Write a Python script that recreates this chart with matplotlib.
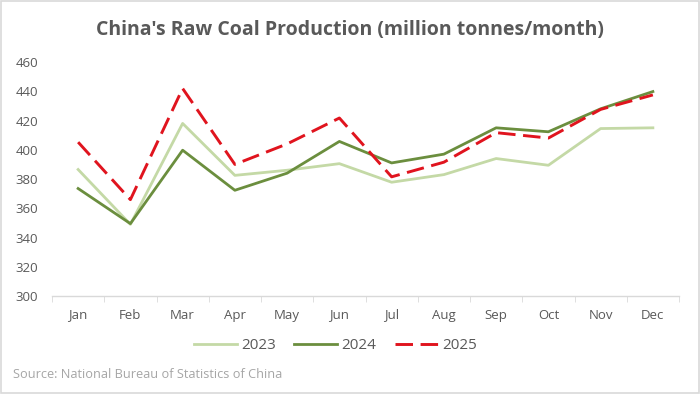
import matplotlib
matplotlib.use("Agg")
import matplotlib.pyplot as plt
from matplotlib.patches import Rectangle
import numpy as np

months = ["Jan", "Feb", "Mar", "Apr", "May", "Jun", "Jul", "Aug", "Sep", "Oct", "Nov", "Dec"]
y2023 = [386.5, 349.0, 418.0, 382.5, 386.0, 390.5, 377.8, 383.0, 394.0, 389.4, 414.5, 415.0]
y2024 = [373.5, 349.5, 399.7, 372.3, 384.0, 405.7, 391.0, 397.0, 415.0, 412.3, 428.0, 439.8]
y2025 = [405.2, 365.9, 441.9, 390.0, 404.0, 421.7, 381.5, 391.5, 411.7, 408.0, 427.6, 437.5]
series_names = ["2023", "2024", "2025"]
yticks = [300, 320, 340, 360, 380, 400, 420, 440, 460]

plt.rcParams['font.family'] = ['Open Sans', 'DejaVu Sans']

fig = plt.figure(figsize=(7.0, 3.94), dpi=100)
fig.patch.set_facecolor("white")
fig.add_artist(Rectangle((0.0015, 0.0025), 0.997, 0.995, transform=fig.transFigure,
                         fill=False, edgecolor="#d9d9d9", linewidth=1.2))

ax = fig.add_axes([0.0743, 0.2487, 0.8957, 0.5939])
x = list(range(len(months)))
ax.plot(x, y2023, color="#c4d9a6", lw=2.0, label=series_names[0])
ax.plot(x, y2024, color="#6b8e3e", lw=2.0, label=series_names[1])
ax.plot(x, y2025, color="#e0141e", lw=2.1, dashes=(6.0, 2.6), label=series_names[2])

ax.set_xlim(-0.5, 11.5)
ax.set_ylim(300, 460)
ax.set_yticks(yticks)
ax.set_yticklabels([str(v) for v in yticks])
ax.set_xticks(x)
ax.set_xticklabels(months)
ax.tick_params(axis="y", length=0, labelsize=9.5, labelcolor="#595959", pad=10)
ax.tick_params(axis="x", length=0, labelsize=9.5, labelcolor="#595959", pad=9)
for s in ["top", "right", "left"]:
    ax.spines[s].set_visible(False)
ax.spines["bottom"].set_color("#d9d9d9")
ax.spines["bottom"].set_linewidth(1.0)
ax.set_xticks(np.arange(-0.5, 12.0, 1.0), minor=True)
ax.tick_params(axis="x", which="minor", length=4, color="#d9d9d9", direction="out")

fig.text(0.5, 0.925, "China's Raw Coal Production (million tonnes/month)",
         ha="center", va="center", fontsize=14, fontweight="bold", color="#595959")

leg = fig.legend(loc="center", bbox_to_anchor=(0.479, 0.122), ncol=3, frameon=False,
                 fontsize=11, handlelength=2.8, handletextpad=0.3, columnspacing=1.2)
for t in leg.get_texts():
    t.set_color("#595959")

fig.text(0.019, 0.05, "Source: National Bureau of Statistics of China",
         ha="left", va="center", fontsize=9.2, color="#a6a6a6")

fig.savefig("out.png", dpi=100)
